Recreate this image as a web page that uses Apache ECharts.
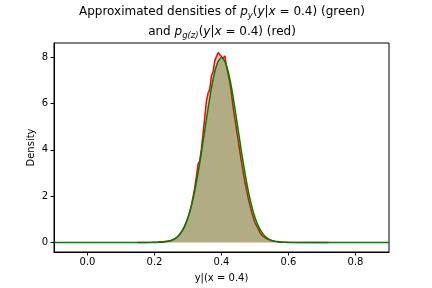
<!DOCTYPE html>
<html>
<head>
<meta charset="utf-8">
<script src="https://cdn.jsdelivr.net/npm/echarts@6/dist/echarts.min.js"></script>
<style>html,body{margin:0;padding:0;background:#fff}#c{width:432px;height:288px}</style>
</head>
<body>
<div id="c"></div>
<script>
// Green density p_y(y|x=0.4)
const greenX = [-0.1, 0.15, 0.18, 0.20, 0.21, 0.22, 0.23, 0.24, 0.25, 0.26, 0.27, 0.28, 0.29, 0.30, 0.31, 0.32, 0.33, 0.34, 0.35, 0.36, 0.37, 0.38, 0.39, 0.40, 0.41, 0.42, 0.43, 0.44, 0.45, 0.46, 0.47, 0.48, 0.49, 0.50, 0.51, 0.52, 0.53, 0.54, 0.55, 0.56, 0.57, 0.58, 0.59, 0.60, 0.62, 0.65, 0.9];
const greenY = [0, 0, 0.001, 0.003, 0.006, 0.012, 0.025, 0.048, 0.089, 0.158, 0.272, 0.448, 0.709, 1.08, 1.58, 2.22, 3.0, 3.88, 4.84, 5.79, 6.67, 7.37, 7.82, 7.98, 7.82, 7.37, 6.67, 5.79, 4.84, 3.88, 3.0, 2.22, 1.58, 1.08, 0.709, 0.448, 0.272, 0.158, 0.089, 0.048, 0.025, 0.012, 0.006, 0.003, 0.001, 0, 0];
// Red density p_g(z)(y|x=0.4)
const redX = [0.15, 0.17, 0.19, 0.21, 0.23, 0.25, 0.26, 0.27, 0.28, 0.29, 0.30, 0.305, 0.31, 0.315, 0.32, 0.325, 0.33, 0.335, 0.34, 0.345, 0.35, 0.355, 0.36, 0.365, 0.37, 0.375, 0.38, 0.385, 0.39, 0.395, 0.40, 0.405, 0.41, 0.415, 0.42, 0.425, 0.43, 0.435, 0.44, 0.445, 0.45, 0.455, 0.46, 0.465, 0.47, 0.475, 0.48, 0.49, 0.50, 0.505, 0.51, 0.515, 0.52, 0.53, 0.54, 0.55, 0.56, 0.58, 0.60, 0.65, 0.72];
const redY = [0, 0.005, 0.01, 0.02, 0.04, 0.09, 0.15, 0.26, 0.44, 0.70, 1.07, 1.32, 1.60, 1.96, 2.36, 2.85, 3.38, 3.52, 4.05, 4.70, 5.40, 6.10, 6.45, 6.62, 7.20, 7.38, 7.85, 7.80, 8.20, 8.10, 8.15, 7.95, 8.05, 7.60, 7.25, 6.90, 6.40, 5.80, 5.35, 4.85, 4.40, 3.90, 3.45, 3.00, 2.60, 2.25, 1.90, 1.30, 0.85, 0.72, 0.60, 0.42, 0.32, 0.21, 0.13, 0.08, 0.05, 0.02, 0.01, 0, 0];
const xTicks = [0.0, 0.2, 0.4, 0.6, 0.8];
const yTicks = [0, 2, 4, 6, 8];

const font = 'DejaVu Sans';
const chart = echarts.init(document.getElementById('c'), null, {renderer: 'canvas'});
const pair = (xs, ys) => xs.map((x, i) => [x, ys[i]]);

chart.setOption({
  animation: false,
  backgroundColor: '#fff',
  title: {
    left: 222,
    textAlign: 'center',
    top: 2,
    padding: 0,
    text: '{n|Approximated densities of }{i|p}{s|y}{n|(}{i|y}{n||}{i|x}{n| = 0.4) (green)}\n{n|and }{i|p}{s|g(z)}{n|(}{i|y}{n||}{i|x}{n| = 0.4) (red)}',
    textStyle: {
      fontFamily: font, fontSize: 12, color: '#000', fontWeight: 'normal', lineHeight: 20,
      rich: {
        n: {fontFamily: font, fontSize: 12, color: '#000', lineHeight: 20},
        i: {fontFamily: font, fontSize: 12, color: '#000', fontStyle: 'italic', lineHeight: 20},
        s: {fontFamily: font, fontSize: 8.5, color: '#000', fontStyle: 'italic', lineHeight: 20, padding: [7, 0, 0, 0]}
      }
    }
  },
  grid: {left: 54, right: 43, top: 43, bottom: 36, show: true, borderColor: '#000', borderWidth: 1, backgroundColor: 'transparent'},
  xAxis: {
    type: 'value', min: -0.1, max: 0.9,
    name: 'y|(x = 0.4)', nameLocation: 'middle', nameGap: 21, nameMoveOverlap: false,
    nameTextStyle: {fontFamily: font, fontSize: 10, color: '#000'},
    axisLine: {show: true, onZero: false, lineStyle: {color: '#000', width: 1}},
    axisTick: {show: true, length: 3.5, inside: false, customValues: xTicks, lineStyle: {color: '#000'}},
    axisLabel: {customValues: xTicks, fontFamily: font, fontSize: 10, color: '#000', margin: 5, formatter: v => v.toFixed(1)},
    splitLine: {show: false}
  },
  yAxis: {
    type: 'value', min: -0.41, max: 8.61,
    name: 'Density', nameLocation: 'middle', nameGap: 18, nameMoveOverlap: false,
    nameTextStyle: {fontFamily: font, fontSize: 10, color: '#000'},
    axisLine: {show: true, onZero: false, lineStyle: {color: '#000', width: 1}},
    axisTick: {show: true, length: 3.5, inside: false, customValues: yTicks, lineStyle: {color: '#000'}},
    axisLabel: {customValues: yTicks, fontFamily: font, fontSize: 10, color: '#000', margin: 6, formatter: v => String(v)},
    splitLine: {show: false}
  },
  series: [
    {
      name: 'red', type: 'line', data: pair(redX, redY), showSymbol: false, symbol: 'none',
      lineStyle: {color: '#ff0000', width: 1.5},
      areaStyle: {color: '#ff0000', opacity: 0.25, origin: 0},
      z: 2
    },
    {
      name: 'green', type: 'line', data: pair(greenX, greenY), showSymbol: false, symbol: 'none', smooth: 0.2,
      lineStyle: {color: '#008000', width: 1.5},
      areaStyle: {color: '#008000', opacity: 0.3, origin: 0},
      z: 3
    }
  ]
});
</script>
</body>
</html>
